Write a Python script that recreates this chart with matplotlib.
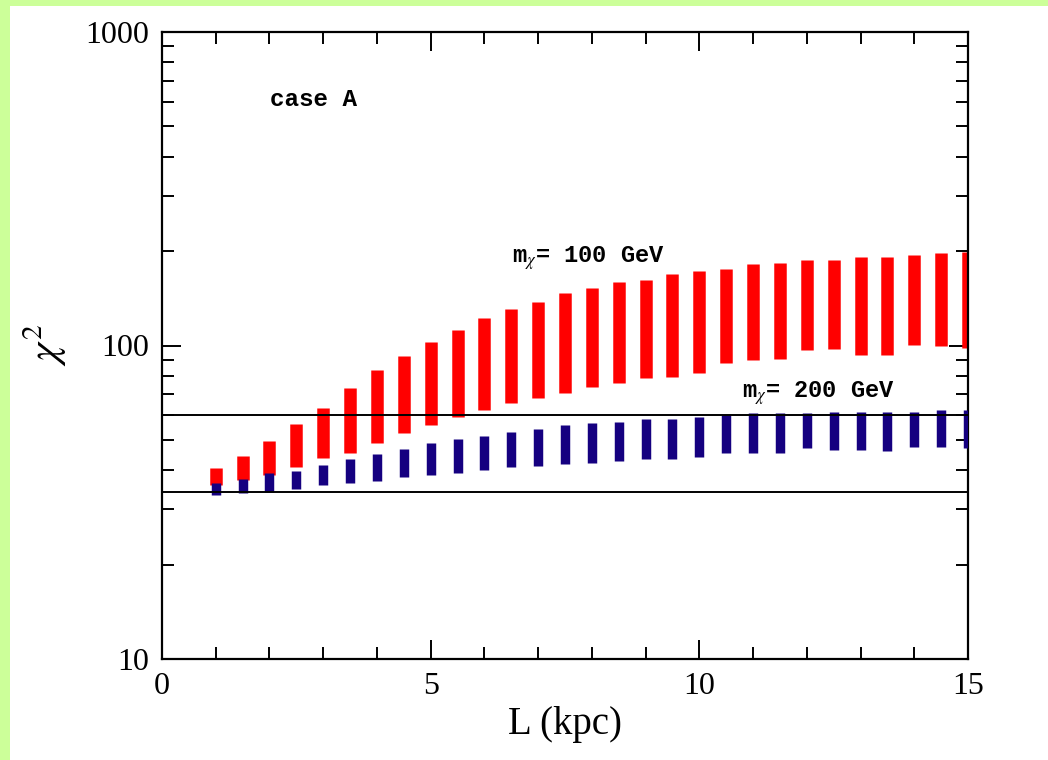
import numpy as np
import matplotlib
matplotlib.use("Agg")
import matplotlib.pyplot as plt
from matplotlib.patches import Rectangle
from matplotlib.ticker import FixedLocator, NullFormatter

# propagation length (kpc) scanned for each model
L = [1.0, 1.5, 2.0, 2.5, 3.0, 3.5, 4.0, 4.5, 5.0, 5.5, 6.0, 6.5, 7.0, 7.5, 8.0,
     8.5, 9.0, 9.5, 10.0, 10.5, 11.0, 11.5, 12.0, 12.5, 13.0, 13.5, 14.0, 14.5, 15.0]

# chi^2 spread, m_x = 100 GeV
red_low = [35.9, 37.2, 38.6, 41.1, 43.7, 45.5, 49.0, 52.7, 55.8, 59.3, 62.3, 65.7, 67.8, 70.4, 73.9,
           75.8, 78.6, 79.5, 81.9, 88.1, 89.9, 90.4, 96.7, 97.5, 93.3, 93.3, 100.4, 100.0, 98.0]
red_high = [40.7, 44.5, 49.7, 56.2, 63.3, 73.4, 83.5, 92.8, 102.8, 112.0, 122.0, 131.0, 138.0, 147.0, 152.0,
            159.0, 162.0, 169.0, 173.0, 176.0, 182.0, 183.0, 188.0, 188.0, 191.0, 191.0, 194.0, 197.0, 198.0]

# chi^2 spread, m_x = 200 GeV
blue_low = [33.4, 33.9, 34.1, 34.8, 35.9, 36.3, 37.0, 38.2, 38.6, 39.1, 40.1, 41.1, 41.3, 41.9, 42.3,
            42.8, 43.4, 43.4, 44.0, 45.3, 45.5, 45.5, 47.0, 46.4, 46.4, 46.2, 47.6, 47.6, 47.0]
blue_high = [36.5, 37.5, 39.1, 39.8, 41.6, 43.4, 45.1, 46.7, 48.8, 50.2, 51.4, 53.1, 54.0, 55.7, 56.5,
             57.2, 58.2, 58.2, 59.0, 60.0, 60.7, 60.7, 61.0, 61.4, 61.4, 61.4, 61.4, 62.3, 62.3]

# confidence levels
levels = [60.0, 34.0]

plt.rcParams['mathtext.fontset'] = 'stix'
serif = 'Liberation Serif'
mono = 'Liberation Mono'

W, H = 1048, 760
fig = plt.figure(figsize=(W/100, H/100), dpi=100, facecolor='#ccff99')
fig.patches.append(Rectangle((10/W, 0), 1, (H-6)/H, transform=fig.transFigure,
                             facecolor='white', edgecolor='none', zorder=-10))

ax = fig.add_axes([162/W, 1-659/H, (968-162)/W, (659-32)/H])
ax.set_yscale('log')
ax.set_xlim(0, 15)
ax.set_ylim(10, 1000)

ax.vlines(L, red_low, red_high, colors='#ff0000', linewidth=9, capstyle='butt', zorder=2)
ax.vlines(L, blue_low, blue_high, colors='#150080', linewidth=6.8, capstyle='butt', zorder=3)
for lev in levels:
    ax.axhline(lev, color='black', lw=1.4, zorder=4)

ax.text(270/W, 1-100/H, 'case A', transform=fig.transFigure, fontsize=17.5,
        family=mono, weight='bold', va='center', ha='left')
ax.text(512/W, 1-258/H, r'm$_\chi$= 100 GeV', transform=fig.transFigure, fontsize=17,
        family=mono, weight='bold', va='center', ha='left')
ax.text(742/W, 1-393/H, r'm$_\chi$= 200 GeV', transform=fig.transFigure, fontsize=17,
        family=mono, weight='bold', va='center', ha='left')

# ticks on all four sides, pointing in
ax.xaxis.set_major_locator(FixedLocator([0, 5, 10, 15]))
ax.xaxis.set_minor_locator(FixedLocator([1, 2, 3, 4, 6, 7, 8, 9, 11, 12, 13, 14]))
ax.yaxis.set_major_locator(FixedLocator([10, 100, 1000]))
ax.yaxis.set_minor_locator(FixedLocator([20, 30, 40, 50, 60, 70, 80, 90,
                                         200, 300, 400, 500, 600, 700, 800, 900]))
ax.yaxis.set_minor_formatter(NullFormatter())
ax.set_xticklabels(['0', '5', '10', '15'], family=serif, fontsize=23)
ax.set_yticklabels(['10', '100', '1000'], family=serif, fontsize=23)
ax.tick_params(which='both', direction='in', top=True, right=True, width=1.4)
ax.tick_params(which='major', length=14, pad=9)
ax.tick_params(which='minor', length=8.5)
for s in ax.spines.values():
    s.set_linewidth(1.6)

ax.set_xlabel('L (kpc)', family=serif, fontsize=28, labelpad=4)
fig.text(45/W, 1-345/H, r'$\chi^2$', rotation=90, fontsize=30, ha='center', va='center')

fig.savefig('out.png', dpi=100, facecolor=fig.get_facecolor())
